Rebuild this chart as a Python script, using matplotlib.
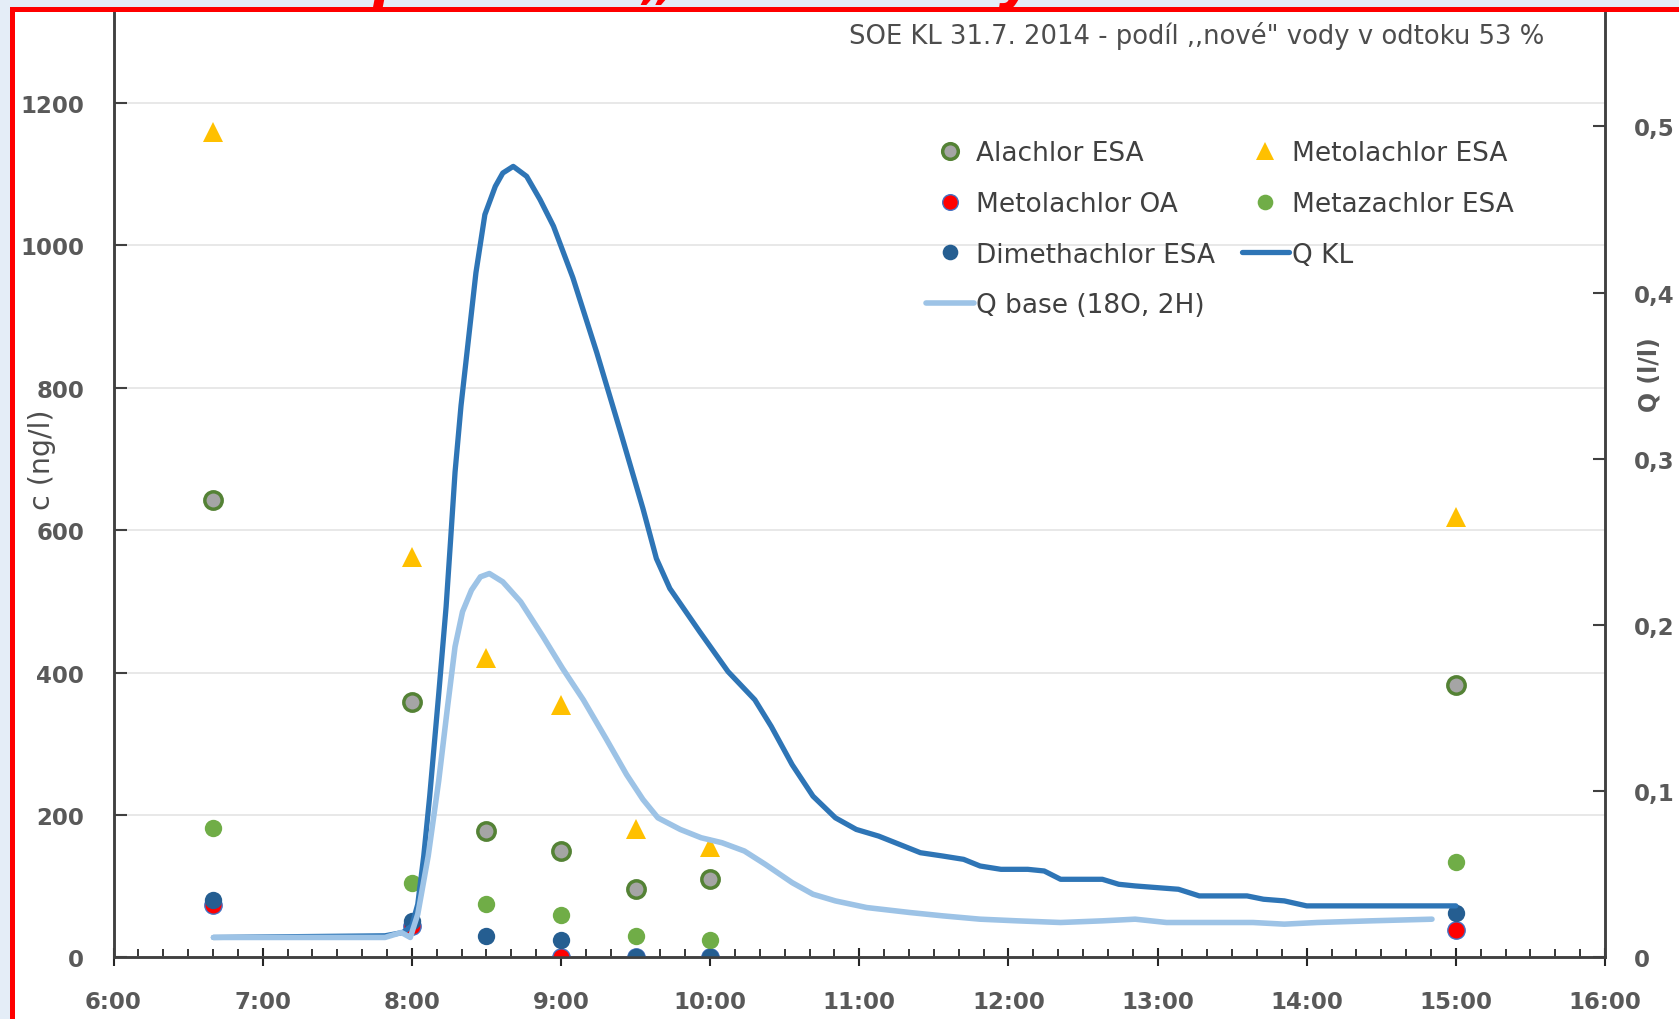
import numpy as np
import matplotlib.pyplot as plt
from matplotlib.lines import Line2D
from matplotlib.patches import Rectangle
from matplotlib.ticker import MultipleLocator

# sampling times in hours of the day (6:40, 8:00 ... 15:00)
sample_t = [6.67, 8.0, 8.5, 9.0, 9.5, 10.0, 15.0]

# concentrations c (ng/l)
alachlor_esa = [642, 359, 177, 150, 96, 110, 382]
metolachlor_esa = [1159, 562, 421, 355, 180, 155, 618]
metolachlor_oa = [74, 44, np.nan, 0, 0, 0, 38]
metazachlor_esa = [182, 104, 75, 59, 30, 24, 134]
dimethachlor_esa = [81, 51, 30, 24, 0, 0, 62]

# discharge Q KL (l/l axis)
q_kl_t = [6.67, 7.82, 7.94, 8.00, 8.04, 8.08, 8.12, 8.18, 8.23, 8.26, 8.29, 8.33,
          8.38, 8.43, 8.49, 8.56, 8.61, 8.68, 8.77, 8.86, 8.95, 9.08, 9.24, 9.40,
          9.55, 9.64, 9.73, 9.93, 10.12, 10.30, 10.41, 10.55, 10.69, 10.84, 10.98,
          11.13, 11.27, 11.41, 11.56, 11.70, 11.81, 11.95, 12.13, 12.24, 12.35,
          12.63, 12.74, 12.85, 13.14, 13.28, 13.60, 13.71, 13.85, 14.00, 15.00]
q_kl = [0.012, 0.013, 0.015, 0.019, 0.032, 0.061, 0.097, 0.158, 0.211, 0.251, 0.292,
        0.332, 0.372, 0.412, 0.447, 0.464, 0.472, 0.476, 0.470, 0.456, 0.440, 0.409,
        0.364, 0.316, 0.270, 0.240, 0.222, 0.196, 0.172, 0.155, 0.139, 0.116, 0.097,
        0.084, 0.077, 0.073, 0.068, 0.063, 0.061, 0.059, 0.055, 0.053, 0.053, 0.052,
        0.047, 0.047, 0.044, 0.043, 0.041, 0.037, 0.037, 0.035, 0.034, 0.031, 0.031]

# base flow from 18O / 2H separation
q_base_t = [6.67, 7.82, 7.93, 7.99, 8.04, 8.11, 8.18, 8.24, 8.29, 8.34, 8.40, 8.46,
            8.52, 8.61, 8.73, 8.88, 9.01, 9.15, 9.30, 9.44, 9.55, 9.65, 9.80, 9.94,
            10.08, 10.23, 10.37, 10.55, 10.69, 10.84, 11.05, 11.34, 11.56, 11.81,
            12.06, 12.35, 12.63, 12.85, 13.06, 13.35, 13.64, 13.85, 14.07, 14.43, 14.84]
q_base = [0.012, 0.012, 0.015, 0.012, 0.026, 0.061, 0.106, 0.151, 0.187, 0.208, 0.221,
          0.229, 0.231, 0.226, 0.214, 0.193, 0.174, 0.155, 0.132, 0.110, 0.095, 0.084,
          0.077, 0.072, 0.069, 0.064, 0.056, 0.045, 0.038, 0.034, 0.030, 0.027, 0.025,
          0.023, 0.022, 0.021, 0.022, 0.023, 0.021, 0.021, 0.021, 0.020, 0.021, 0.022,
          0.023]

hour_ticks = list(range(6, 17))
q_ticks = [0, 0.1, 0.2, 0.3, 0.4, 0.5]

GRAY = "#595959"
W, H = 1679, 1020

fig = plt.figure(figsize=(W / 100, H / 100), dpi=100)
fig.patch.set_facecolor("#e4edf7")

# white slide area with red frame, slide heading cut off at the top
fig.patches.append(Rectangle((12 / W, 0), 1, 1 - 10 / H, transform=fig.transFigure,
                             facecolor="white", edgecolor="none", zorder=-5))
fig.text(0.507, 1 + 2 / H, "podílem \u201enové\u201c vody v odtoku", color="red",
         fontsize=40, fontweight="bold", fontstyle="italic", ha="center",
         va="baseline", zorder=-4)
fig.add_artist(Line2D([11.5 / W, 11.5 / W], [0, 1 - 9.5 / H], color="red", lw=3.6,
                      transform=fig.transFigure, solid_capstyle="projecting"))
fig.add_artist(Line2D([11.5 / W, 1], [1 - 9.5 / H, 1 - 9.5 / H], color="red", lw=3.6,
                      transform=fig.transFigure, solid_capstyle="projecting"))

ax = fig.add_axes([113.5 / W, 1 - 958.4 / H, (1605 - 113.5) / W, (958.4 - 12) / H])
ax.set_facecolor("none")
ax2 = ax.twinx()

ms = 12.5
ax.plot(sample_t, alachlor_esa, "o", ms=ms, mfc="#a5a5a5", mec="#548235", mew=2.5,
        label="Alachlor ESA", zorder=3)
ax.plot(sample_t, metolachlor_esa, "^", ms=15, mfc="#ffc000", mec="#ffc000", mew=0,
        label="Metolachlor ESA", zorder=3)
ax.plot(sample_t, metolachlor_oa, "o", ms=ms, mfc="#ff0000", mec="#4472c4", mew=1.0,
        label="Metolachlor OA", zorder=3)
ax.plot(sample_t, metazachlor_esa, "o", ms=ms, mfc="#70ad47", mec="#70ad47", mew=0,
        label="Metazachlor ESA", zorder=3)
ax.plot(sample_t, dimethachlor_esa, "o", ms=ms, mfc="#255e91", mec="#255e91", mew=0,
        label="Dimethachlor ESA", zorder=3)

ax2.plot(q_kl_t, q_kl, color="#2e75b6", lw=3.8, solid_joinstyle="round",
         solid_capstyle="round", label="Q KL")
ax2.plot(q_base_t, q_base, color="#9dc3e6", lw=4.0, solid_joinstyle="round",
         solid_capstyle="round", label="Q base (18O, 2H)")

ax.set_xlim(6, 16)
ax.set_ylim(0, 1329)
ax2.set_ylim(0, 0.5695)

ax.set_xticks(hour_ticks)
ax.set_xticklabels([f"{h}:00" for h in hour_ticks])
ax.xaxis.set_minor_locator(MultipleLocator(1 / 6))
ax.set_yticks(range(0, 1201, 200))
ax2.set_yticks(q_ticks)
ax2.set_yticklabels(["0" if v == 0 else f"{v:.1f}".replace(".", ",") for v in q_ticks])

ax.grid(axis="y", color="#e8e8e8", lw=1.4, zorder=0)
ax.set_axisbelow(True)

for a in (ax, ax2):
    a.spines["top"].set_visible(False)
    for s in ("left", "right", "bottom"):
        a.spines[s].set_color("#404040")
        a.spines[s].set_linewidth(1.8)

tick_font = dict(labelsize=16.5, labelcolor=GRAY)
ax.tick_params(axis="x", which="major", direction="inout", length=13, width=1.5,
               color="#262626", pad=17, **tick_font)
ax.tick_params(axis="x", which="minor", direction="in", length=6, width=1.3,
               color="#262626")
ax.tick_params(axis="y", direction="in", length=9, width=1.5, color="#404040",
               pad=21, **tick_font)
ax2.tick_params(axis="y", direction="in", length=9, width=1.5, color="#404040",
                pad=21, **tick_font)
for lbl in ax.get_xticklabels() + ax.get_yticklabels() + ax2.get_yticklabels():
    lbl.set_fontweight("bold")

fig.text(42 / W, 1 - 460 / H, "c (ng/l)", rotation=90, ha="center", va="center",
         fontsize=20.5, color="#4d4d4d")
fig.text(1650 / W, 1 - 375 / H, "Q (l/l)", rotation=90, ha="center", va="center",
         fontsize=17, color=GRAY, fontweight="bold")
fig.text(1544 / W, 1 - 36 / H, "SOE KL 31.7. 2014 - podíl ,,nové\" vody v odtoku 53 %",
         ha="right", va="center", fontsize=18.6, color="#4d4d4d")

h = {l.get_label(): l for l in ax.get_lines() + ax2.get_lines()}
order = ["Alachlor ESA", "Metolachlor OA", "Dimethachlor ESA", "Q base (18O, 2H)",
         "Metolachlor ESA", "Metazachlor ESA", "Q KL"]
leg = ax2.legend([h[k] for k in order], order, ncol=2, frameon=False,
                 loc="upper left", bbox_to_anchor=(926 / W, 1 - 141.5 / H),
                 bbox_transform=fig.transFigure, borderpad=0, borderaxespad=0,
                 fontsize=19, handlelength=1.8, handletextpad=0.1,
                 columnspacing=1.0, labelspacing=0.93, numpoints=1,
                 markerscale=0.9)
for t in leg.get_texts():
    t.set_color("#404040")

fig.savefig("out.png", dpi=100, facecolor=fig.get_facecolor())
